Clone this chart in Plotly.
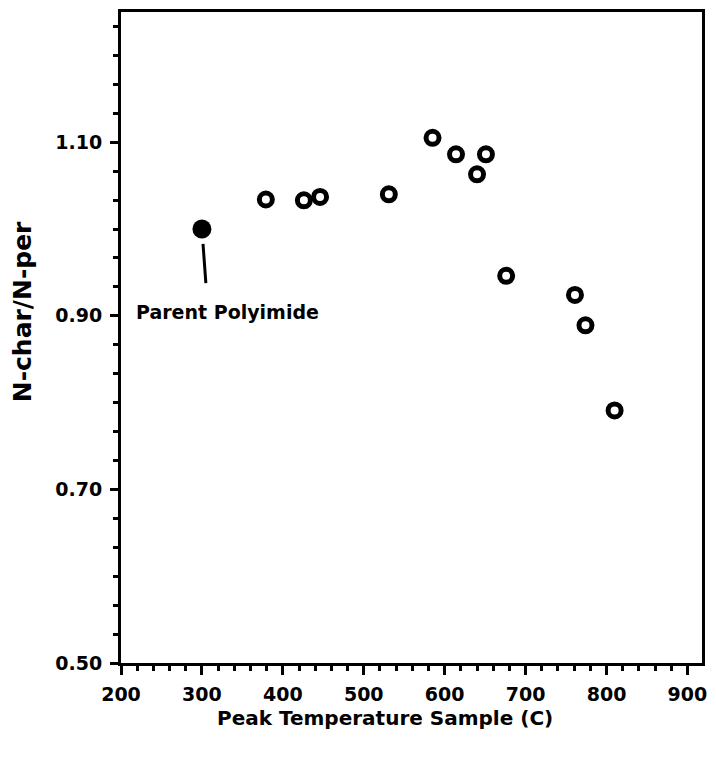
import plotly.graph_objects as go

# Data
parent_temp = [300]
parent_ratio = [1.00]
sample_temp = [379, 426, 446, 531, 585, 614, 640, 651, 676, 761, 774, 810]
sample_ratio = [1.034, 1.033, 1.037, 1.040, 1.105, 1.086, 1.063, 1.086, 0.946, 0.924, 0.889, 0.791]

x_ticks = [200, 300, 400, 500, 600, 700, 800, 900]
y_ticks = [0.50, 0.70, 0.90, 1.10]
y_tick_text = ["0.50", "0.70", "0.90", "1.10"]

FONT = "DejaVu Sans"
INK = "black"

fig = go.Figure()
fig.add_trace(go.Scatter(
    x=sample_temp, y=sample_ratio, mode="markers",
    marker=dict(symbol="circle-open", size=13, color=INK, line=dict(width=5, color=INK)),
    showlegend=False, hoverinfo="x+y"))
fig.add_trace(go.Scatter(
    x=parent_temp, y=parent_ratio, mode="markers",
    marker=dict(symbol="circle", size=19, color=INK, line=dict(width=0)),
    showlegend=False, hoverinfo="x+y"))

# leader line from label to parent point
fig.add_annotation(x=parent_temp[0], y=parent_ratio[0], xref="x", yref="y",
                   ax=parent_temp[0] + 5, ay=0.936, axref="x", ayref="y",
                   text="", showarrow=True, arrowhead=0, arrowwidth=3,
                   arrowcolor=INK, standoff=15)
fig.add_annotation(x=331, y=0.904, xref="x", yref="y", text="Parent Polyimide",
                   showarrow=False,
                   font=dict(family=FONT, size=19, color=INK, weight="bold"))

# axis titles
fig.add_annotation(x=526, y=-0.084, xref="x", yref="paper", text="Peak Temperature Sample (C)",
                   showarrow=False, yanchor="middle",
                   font=dict(family=FONT, size=20, color=INK, weight="bold"))
fig.add_annotation(x=-0.169, y=0.905, xref="paper", yref="y", text="N-char/N-per",
                   showarrow=False, textangle=-90, xanchor="center", yanchor="middle",
                   font=dict(family=FONT, size=25, color=INK, weight="bold"))

fig.update_xaxes(range=[200, 918], tickvals=x_ticks, ticks="outside", ticklen=9,
                 tickwidth=3, tickcolor=INK, showline=True, linewidth=3, linecolor=INK,
                 mirror=True, showgrid=False, zeroline=False,
                 ticklabelstandoff=3,
                 tickfont=dict(family=FONT, size=19, color=INK, weight="bold"),
                 minor=dict(dtick=20, ticks="outside", ticklen=5, tickwidth=2.5,
                            tickcolor=INK, showgrid=False))
fig.update_yaxes(range=[0.5, 1.25], tickvals=y_ticks, ticktext=y_tick_text,
                 ticks="outside", ticklen=8, tickwidth=3, tickcolor=INK,
                 showline=True, linewidth=3, linecolor=INK, mirror=True,
                 showgrid=False, zeroline=False, ticklabelstandoff=4,
                 tickfont=dict(family=FONT, size=19, color=INK, weight="bold"),
                 minor=dict(tick0=0.5, dtick=0.2 / 6, ticks="outside", ticklen=5,
                            tickwidth=2.5, tickcolor=INK, showgrid=False))

fig.update_layout(width=716, height=761, margin=dict(l=121, r=9, t=10, b=98),
                  plot_bgcolor="white", paper_bgcolor="white")

# remove the default page margin so the figure fills the window exactly
fig.write_html("out.html",
               config={"displayModeBar": False},
               post_script="document.body.style.margin='0';document.body.style.overflow='hidden';")
